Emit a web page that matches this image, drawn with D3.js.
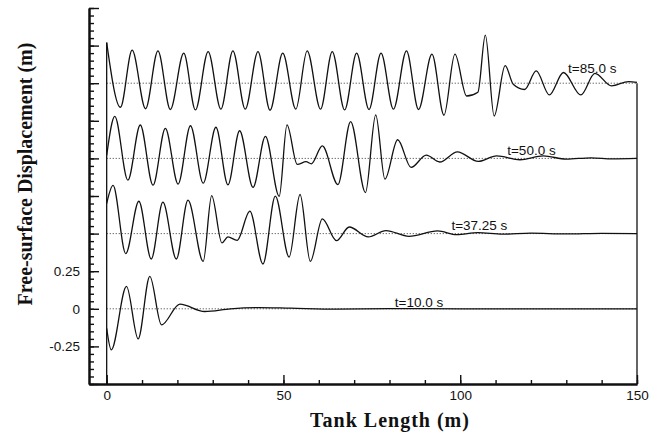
<!DOCTYPE html>
<html><head><meta charset="utf-8">
<script src="https://cdn.jsdelivr.net/npm/d3@7"></script>
<style>
body{margin:0;background:#fff;}
svg{display:block;}
</style></head>
<body>
<svg id="chart" width="661" height="432"></svg>
<script>
// ---- data (x in m, free-surface displacement in m) ----
const wave85 = [
[0,0.27],[3.9,-0.16],[7.2,0.22],[11.0,-0.17],[14.5,0.215],[18.0,-0.175],[21.8,0.20],[25.1,-0.178],
[28.7,0.21],[32.3,-0.173],[35.7,0.215],[39.2,-0.173],[42.8,0.21],[46.2,-0.18],[49.8,0.20],[53.5,-0.173],
[56.7,0.215],[60.5,-0.173],[63.8,0.21],[67.3,-0.178],[70.7,0.20],[74.2,-0.175],[77.6,0.20],[81.1,-0.173],
[84.8,0.215],[88.2,-0.175],[92.0,0.193],[95.4,-0.213],[98.5,0.193],[101.8,-0.085],[105.0,-0.06],
[107.1,0.32],[109.6,-0.218],[112.7,0.117],[115.0,-0.007],[118.2,-0.042],[121.5,0.082],[125.2,-0.078],
[129.2,0.071],[134.1,-0.078],[138.1,0.065],[142.8,-0.018],[147.6,0.011],[150,0.005]
];
const wave50 = [
[0,0.02],[2.3,0.28],[6.0,-0.145],[9.5,0.222],[13.1,-0.178],[16.6,0.20],[20.2,-0.171],[23.7,0.217],
[27.3,-0.165],[30.9,0.207],[34.3,-0.176],[37.6,0.184],[41.4,-0.193],[44.9,0.147],[48.8,-0.252],
[51.0,0.223],[53.9,-0.04],[56.4,-0.022],[57.9,-0.036],[61.0,0.083],[65.4,-0.174],[69.0,0.245],
[73.2,-0.227],[76.1,0.29],[78.7,-0.138],[82.3,0.124],[86.1,-0.06],[90.4,0.022],[94.2,-0.024],
[99.2,0.044],[105.1,-0.02],[110.3,0.017],[116.9,-0.009],[123.5,0.017],[130,-0.005],[137,0.004],
[143,-0.003],[150,0]
];
const wave37 = [
[0,0.2],[1.8,0.32],[5.4,-0.133],[9.1,0.215],[12.6,-0.169],[15.9,0.209],[19.7,-0.169],[23.0,0.222],
[27.3,-0.185],[29.7,0.253],[32.6,-0.062],[34.3,-0.022],[36.9,-0.045],[40.5,0.149],[44.2,-0.202],
[47.7,0.249],[51.6,-0.156],[54.7,0.26],[57.6,-0.185],[61.0,0.098],[65.0,-0.047],[68.6,0.044],
[74.0,-0.022],[79.0,0.02],[85.5,-0.018],[93.6,0.018],[99,-0.007],[105,0.006],[112,-0.004],
[120,0.003],[130,-0.002],[140,0.002],[150,0]
];
const wave10 = [
[0,-0.13],[1.3,-0.273],[5.6,0.149],[8.9,-0.2],[12.2,0.215],[15.5,-0.107],[20.7,0.031],[27.7,-0.018],
[35,0.0],[43,0.008],[52,0.004],[65,-0.002],[80,0.001],[100,0],[150,0]
];
const seriesNames = ["t=10.0 s","t=37.25 s","t=50.0 s","t=85.0 s"];
const seriesOffsets = [0, 0.5, 1.0, 1.5];
const seriesData = [wave10, wave37, wave50, wave85];
const labelPos = [[81.5,0.013],[97.5,0.525],[113.3,1.022],[130.5,1.567]];
const xMajorTicks = [0,50,100,150];
const xMinorTicks = d3.range(0,151,10);
const yMajorTicks = d3.range(-0.5,2.001,0.25);
const yMinorTicks = d3.range(-0.5,2.001,0.05);
const yTickLabels = {"-0.25":"-0.25","0":"0","0.25":"0.25"};

// ---- scales ----
const svg = d3.select("#chart");
const x = d3.scaleLinear().domain([-5,150]).range([89,637]);
const y = d3.scaleLinear().domain([-0.5,2.0]).range([384,8]);

// dotted baselines
svg.selectAll("line.base").data(seriesOffsets).join("line")
  .attr("x1",x(0)).attr("x2",x(150))
  .attr("y1",d=>y(d)).attr("y2",d=>y(d))
  .attr("stroke","#444").attr("stroke-width",0.9).attr("stroke-dasharray","1.2,1.8");

// curves
const line = d3.line().x(d=>x(d[0])).y(d=>y(d[1])).curve(d3.curveMonotoneX);
seriesData.forEach((s,i)=>{
  const pts = s.map(p=>[p[0], p[1]+seriesOffsets[i]]);
  svg.append("path").attr("d",line(pts)).attr("fill","none")
    .attr("stroke","#111").attr("stroke-width",1.3);
});

// tank walls (vertical lines at both ends)
svg.append("line").attr("x1",x(0)).attr("x2",x(0))
  .attr("y1",y(-0.5)).attr("y2",y(wave85[0][1]+1.5))
  .attr("stroke","#111").attr("stroke-width",1.3);
svg.append("line").attr("x1",x(150)).attr("x2",x(150))
  .attr("y1",y(-0.5)).attr("y2",y(1.5))
  .attr("stroke","#111").attr("stroke-width",1.3);

// series labels
svg.selectAll("text.lab").data(seriesNames).join("text")
  .attr("x",(d,i)=>x(labelPos[i][0])).attr("y",(d,i)=>y(labelPos[i][1]))
  .attr("font-family","Liberation Sans, Arial, sans-serif").attr("font-size",13.5)
  .attr("fill","#111").text(d=>d);

// axes
const font = "Liberation Sans, Arial, sans-serif";
const yMinor = svg.append("g").attr("transform",`translate(${x(-5)},0)`)
  .call(d3.axisLeft(y).tickValues(yMinorTicks).tickSizeInner(-5).tickSizeOuter(0).tickFormat(""));
const yMajor = svg.append("g").attr("transform",`translate(${x(-5)},0)`)
  .call(d3.axisLeft(y).tickValues(yMajorTicks).tickSizeInner(-10).tickSizeOuter(0).tickPadding(9)
    .tickFormat(d=>{const k=String(+d.toFixed(2)); return yTickLabels[k]||"";}));
const xMinor = svg.append("g").attr("transform",`translate(0,${y(-0.5)})`)
  .call(d3.axisBottom(x).tickValues(xMinorTicks).tickSizeInner(-4).tickSizeOuter(0).tickFormat(""));
const xMajor = svg.append("g").attr("transform",`translate(0,${y(-0.5)})`)
  .call(d3.axisBottom(x).tickValues(xMajorTicks).tickSizeInner(-9).tickSizeOuter(0).tickPadding(6)
    .tickFormat(d3.format("d")));
[yMinor,yMajor,xMinor,xMajor].forEach(g=>{
  g.selectAll(".domain").attr("stroke","#111").attr("stroke-width",2);
  g.selectAll(".tick line").attr("stroke","#111").attr("stroke-width",1.4);
  g.selectAll(".tick text").attr("font-family",font).attr("font-size",13.5).attr("fill","#111");
});

// axis titles
svg.append("text").attr("x",390).attr("y",427).attr("text-anchor","middle")
  .attr("font-family","Liberation Serif, Times New Roman, serif").attr("font-weight","bold")
  .attr("font-size",20).attr("letter-spacing",1).attr("fill","#111").text("Tank Length  (m)");
svg.append("text").attr("transform","translate(32,174) rotate(-90)").attr("text-anchor","middle")
  .attr("font-family","Liberation Serif, Times New Roman, serif").attr("font-weight","bold")
  .attr("font-size",20).attr("fill","#111").text("Free-surface Displacement (m)");
</script>
</body></html>
